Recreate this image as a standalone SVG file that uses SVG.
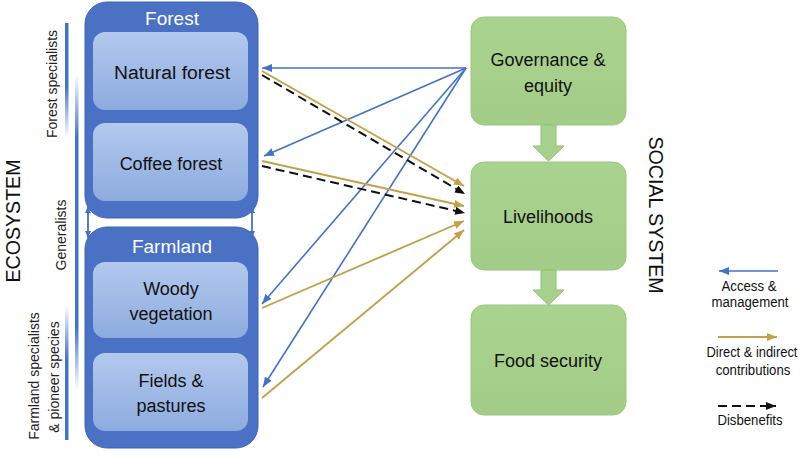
<svg xmlns="http://www.w3.org/2000/svg" width="800" height="452" viewBox="0 0 800 452">
<style>
text{font-family:"Liberation Sans",Arial,sans-serif;}
.outer{fill:#4a71c3;stroke:#3f65b3;stroke-width:1;}
.inner{fill:url(#innerG);stroke:none;}
.green{fill:url(#greenG);stroke:#9cc77f;stroke-width:1;}
.blk{fill:#111;font-size:18px;text-anchor:middle;}
.wt{fill:#fff;font-size:19px;text-anchor:middle;}
.side{fill:#222;font-size:14px;text-anchor:middle;}
.big{fill:#111;font-size:19.6px;text-anchor:middle;}
.leg{fill:#111;font-size:15px;text-anchor:middle;}
.blue{stroke:#4472c4;stroke-width:1.6;fill:none;marker-end:url(#mBlue);}
.gold{stroke:#c4a04a;stroke-width:1.9;fill:none;marker-end:url(#mGold);}
.dash{stroke:#111;stroke-width:2;stroke-dasharray:9 5;fill:none;marker-end:url(#mBlack);}
.dbl{stroke:#4472c4;stroke-width:1.8;fill:none;marker-start:url(#mBlueS);marker-end:url(#mBlueS);}
.barrow{fill:#a9d18e;stroke:#8fbf72;stroke-width:1;}
</style>
<defs>
<linearGradient id="innerG" x1="0" y1="0" x2="0" y2="1">
<stop offset="0" stop-color="#b3c9ee"/>
<stop offset="1" stop-color="#8dabdf"/>
</linearGradient>
<linearGradient id="greenG" x1="0" y1="0" x2="0" y2="1">
<stop offset="0" stop-color="#a9d38e"/>
<stop offset="1" stop-color="#a3cc88"/>
</linearGradient>
<linearGradient id="barTop" x1="0" y1="0" x2="0" y2="1">
<stop offset="0" stop-color="#4472c4"/>
<stop offset="0.55" stop-color="#4472c4"/>
<stop offset="1" stop-color="#4472c4" stop-opacity="0"/>
</linearGradient>
<linearGradient id="barMid" x1="0" y1="0" x2="0" y2="1">
<stop offset="0" stop-color="#4472c4" stop-opacity="0"/>
<stop offset="0.2" stop-color="#4472c4"/>
<stop offset="0.8" stop-color="#4472c4"/>
<stop offset="1" stop-color="#4472c4" stop-opacity="0"/>
</linearGradient>
<linearGradient id="barBot" x1="0" y1="0" x2="0" y2="1">
<stop offset="0" stop-color="#4472c4" stop-opacity="0"/>
<stop offset="0.4" stop-color="#4472c4"/>
<stop offset="1" stop-color="#4472c4"/>
</linearGradient>
<marker id="mBlue" markerUnits="userSpaceOnUse" markerWidth="12" markerHeight="10" refX="10" refY="4" orient="auto">
<path d="M0,0 L10,4 L0,8 Z" fill="#4472c4"/>
</marker>
<marker id="mBlueS" markerUnits="userSpaceOnUse" markerWidth="10" markerHeight="8" refX="7" refY="3" orient="auto-start-reverse">
<path d="M0,0 L7,3 L0,6 Z" fill="#4472c4"/>
</marker>
<marker id="mGold" markerUnits="userSpaceOnUse" markerWidth="12" markerHeight="10" refX="10" refY="4" orient="auto">
<path d="M0,0 L10,4 L0,8 Z" fill="#c4a04a"/>
</marker>
<marker id="mBlack" markerUnits="userSpaceOnUse" markerWidth="12" markerHeight="10" refX="10" refY="4" orient="auto">
<path d="M0,0 L10,4 L0,8 Z" fill="#111"/>
</marker>
</defs>
<rect width="800" height="452" fill="#fff"/>

<g id="side-labels">
<rect x="65" y="23" width="3.5" height="115" fill="url(#barTop)"/>
<rect x="75" y="75" width="3.5" height="315" fill="url(#barMid)"/>
<rect x="65" y="305" width="3.5" height="135" fill="url(#barBot)"/>
<text class="big" transform="translate(20,221) rotate(-90)">ECOSYSTEM</text>
<text class="side" transform="translate(57,84) rotate(-90)">Forest specialists</text>
<text class="side" transform="translate(66,235) rotate(-90)">Generalists</text>
<text class="side" transform="translate(39,376) rotate(-90)">Farmland specialists</text>
<text class="side" transform="translate(59,377) rotate(-90)">&amp; pioneer species</text>
<text class="big" transform="translate(649,215) rotate(90)">SOCIAL SYSTEM</text>
</g>

<g id="forest">
<rect class="outer" x="85" y="2" width="173" height="216" rx="22"/>
<text class="wt" x="172" y="25">Forest</text>
</g>
<g id="natural-forest">
<rect class="inner" x="93" y="32" width="155" height="78" rx="12"/>
<text class="blk" x="172" y="79" textLength="116" lengthAdjust="spacingAndGlyphs">Natural forest</text>
</g>
<g id="coffee-forest">
<rect class="inner" x="93" y="123" width="155" height="78" rx="12"/>
<text class="blk" x="171" y="170">Coffee forest</text>
</g>
<g id="farmland">
<rect class="outer" x="85" y="227" width="173" height="221" rx="22"/>
<text class="wt" x="172" y="253">Farmland</text>
</g>
<g id="woody-vegetation">
<rect class="inner" x="93" y="262" width="155" height="76" rx="12"/>
<text class="blk" x="171" y="295">Woody</text>
<text class="blk" x="171" y="320">vegetation</text>
</g>
<g id="fields-pastures">
<rect class="inner" x="93" y="353" width="155" height="78" rx="12"/>
<text class="blk" x="171" y="387">Fields &amp;</text>
<text class="blk" x="171" y="412">pastures</text>
</g>

<g id="governance">
<rect class="green" x="471" y="17" width="155" height="108" rx="13"/>
<text class="blk" x="548" y="66">Governance &amp;</text>
<text class="blk" x="548" y="92">equity</text>
</g>
<g id="livelihoods">
<rect class="green" x="471" y="162" width="155" height="108" rx="13"/>
<text class="blk" x="548" y="223">Livelihoods</text>
</g>
<g id="food-security">
<rect class="green" x="471" y="305" width="155" height="110" rx="13"/>
<text class="blk" x="548" y="367">Food security</text>
</g>

<g id="connectors">
<path class="barrow" d="M541,125 L556,125 L556,146 L564,146 L548.5,161 L533,146 L541,146 Z"/>
<path class="barrow" d="M541,270 L556,270 L556,290 L564,290 L548.5,305 L533,290 L541,290 Z"/>
<line class="dbl" x1="88" y1="206" x2="88" y2="238"/>
<line class="dbl" x1="252" y1="206" x2="252" y2="238"/>
<line class="blue" x1="466" y1="68" x2="262" y2="68"/>
<line class="blue" x1="466" y1="68" x2="264" y2="156"/>
<line class="blue" x1="466" y1="68" x2="262" y2="304"/>
<line class="blue" x1="466" y1="68" x2="263" y2="387"/>
<line class="gold" x1="262" y1="71" x2="464" y2="186"/>
<line class="dash" x1="262" y1="75" x2="465" y2="194"/>
<line class="gold" x1="262" y1="161" x2="464" y2="206"/>
<line class="dash" x1="262" y1="166" x2="465" y2="213"/>
<line class="gold" x1="262" y1="308" x2="464" y2="221"/>
<line class="gold" x1="262" y1="398" x2="464" y2="230"/>
</g>

<g id="legend">
<line class="blue" x1="778" y1="271" x2="719" y2="271"/>
<text class="leg" transform="translate(749,291) scale(0.88,1)">Access &amp;</text>
<text class="leg" transform="translate(750,307) scale(0.88,1)">management</text>
<line class="gold" x1="718" y1="337" x2="777" y2="337"/>
<text class="leg" transform="translate(752,357) scale(0.86,1)">Direct &amp; indirect</text>
<text class="leg" transform="translate(753,375) scale(0.88,1)">contributions</text>
<line class="dash" x1="718" y1="406" x2="776" y2="406"/>
<text class="leg" transform="translate(750,425) scale(0.88,1)">Disbenefits</text>
</g>
</svg>
